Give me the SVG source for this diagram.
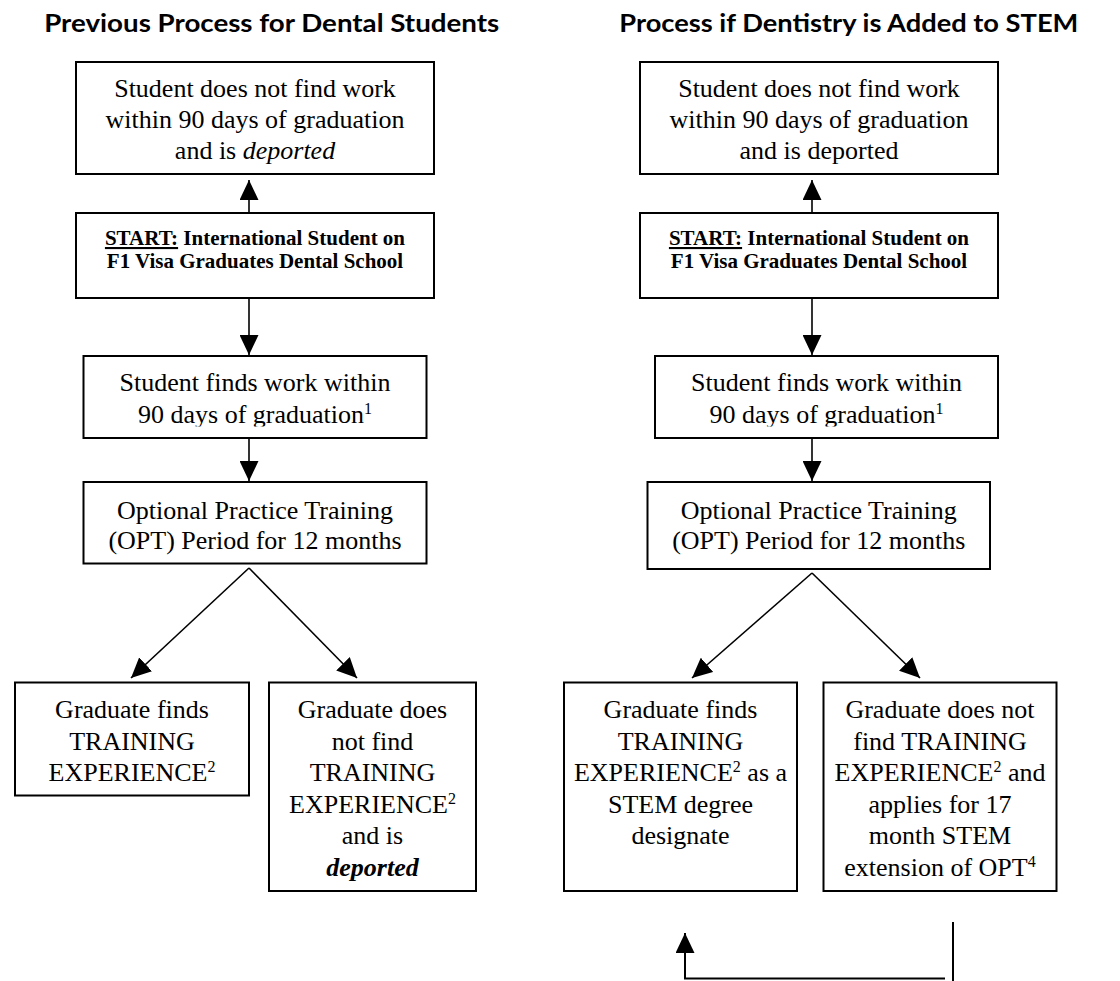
<svg xmlns="http://www.w3.org/2000/svg" width="1120" height="981" viewBox="0 0 1120 981">
<style>
.box{fill:#fff;stroke:#000;stroke-width:2}
.t{font-family:"Liberation Serif","Times New Roman",serif;font-size:26px;fill:#000;text-anchor:middle}
.b{font-family:"Liberation Serif","Times New Roman",serif;font-size:21px;font-weight:bold;fill:#000;text-anchor:middle}
.title{font-family:Lato,"Open Sans","Liberation Sans",sans-serif;font-size:25.5px;font-weight:bold;fill:#000;text-anchor:middle}
.sup{font-size:16px}
.c{fill:none;stroke:#000;stroke-width:1.6}
</style>
<defs>
<marker id="ah" markerUnits="userSpaceOnUse" markerWidth="20" markerHeight="19" viewBox="0 0 20 19" refX="20" refY="9.5" orient="auto">
<path d="M0,0 L20,9.5 L0,19 z" fill="#000"/>
</marker>
<clipPath id="clipL3"><rect x="80" y="350" width="350" height="76.5"/></clipPath>
<clipPath id="clipR3"><rect x="650" y="350" width="350" height="76.5"/></clipPath>
</defs>

<text class="title" x="271.7" y="32" textLength="455" lengthAdjust="spacingAndGlyphs">Previous Process for Dental Students</text>
<text class="title" x="848.8" y="32" textLength="459" lengthAdjust="spacingAndGlyphs">Process if Dentistry is Added to STEM</text>

<g id="connectors">
<line class="c" x1="249" y1="213" x2="249" y2="180" marker-end="url(#ah)"/>
<line class="c" x1="249" y1="298" x2="249" y2="355" marker-end="url(#ah)"/>
<line class="c" x1="249" y1="438" x2="249" y2="481" marker-end="url(#ah)"/>
<line class="c" x1="249" y1="568" x2="131" y2="678" marker-end="url(#ah)"/>
<line class="c" x1="249" y1="568" x2="357" y2="678" marker-end="url(#ah)"/>
<line class="c" x1="812" y1="213" x2="812" y2="180" marker-end="url(#ah)"/>
<line class="c" x1="812" y1="298" x2="812" y2="355" marker-end="url(#ah)"/>
<line class="c" x1="812" y1="438" x2="812" y2="481" marker-end="url(#ah)"/>
<line class="c" x1="812" y1="573" x2="692" y2="678" marker-end="url(#ah)"/>
<line class="c" x1="812" y1="573" x2="920" y2="678" marker-end="url(#ah)"/>
<polyline class="c" style="stroke-width:2" points="945,978.5 685,978.5 685,933" marker-end="url(#ah)"/>
<line class="c" style="stroke-width:2" x1="953" y1="922" x2="953" y2="981"/>
</g>

<g id="L1">
<rect class="box" x="76" y="62" width="358" height="112"/>
<text class="t" x="255" y="97">Student does not find work</text>
<text class="t" x="255" y="128">within 90 days of graduation</text>
<text class="t" x="255" y="159">and is <tspan font-style="italic">deported</tspan></text>
</g>
<g id="L2">
<rect class="box" x="76" y="213" width="358" height="85"/>
<text class="b" x="255" y="245"><tspan text-decoration="underline">START:</tspan> International Student on</text>
<text class="b" x="255" y="268">F1 Visa Graduates Dental School</text>
</g>
<g id="L3">
<rect class="box" x="83.5" y="356" width="343" height="82"/>
<text class="t" x="255" y="391">Student finds work within</text>
<text class="t" x="255" y="423" clip-path="url(#clipL3)">90 days of graduation<tspan class="sup" dy="-9">1</tspan></text>
</g>
<g id="L4">
<rect class="box" x="83.5" y="482" width="343" height="81.5"/>
<text class="t" x="255" y="518.5">Optional Practice Training</text>
<text class="t" x="255" y="548.5">(OPT) Period for 12 months</text>
</g>
<g id="L5">
<rect class="box" x="15" y="682.5" width="234" height="113"/>
<text class="t" x="132" y="718">Graduate finds</text>
<text class="t" x="132" y="749.5">TRAINING</text>
<text class="t" x="132" y="781">EXPERIENCE<tspan class="sup" dy="-9">2</tspan></text>
</g>
<g id="L6">
<rect class="box" x="269" y="682.5" width="207" height="208.5"/>
<text class="t" x="372.5" y="718">Graduate does</text>
<text class="t" x="372.5" y="749.5">not find</text>
<text class="t" x="372.5" y="781">TRAINING</text>
<text class="t" x="372.5" y="812.5">EXPERIENCE<tspan class="sup" dy="-9">2</tspan></text>
<text class="t" x="372.5" y="844">and is</text>
<text class="t" x="372.5" y="875.5" font-weight="bold" font-style="italic">deported</text>
</g>

<g id="R1">
<rect class="box" x="640" y="62" width="358" height="112"/>
<text class="t" x="819" y="97">Student does not find work</text>
<text class="t" x="819" y="128">within 90 days of graduation</text>
<text class="t" x="819" y="159">and is deported</text>
</g>
<g id="R2">
<rect class="box" x="640" y="213" width="358" height="85"/>
<text class="b" x="819" y="245"><tspan text-decoration="underline">START:</tspan> International Student on</text>
<text class="b" x="819" y="268">F1 Visa Graduates Dental School</text>
</g>
<g id="R3">
<rect class="box" x="655" y="356" width="343" height="82"/>
<text class="t" x="826.5" y="391">Student finds work within</text>
<text class="t" x="826.5" y="423" clip-path="url(#clipR3)">90 days of graduation<tspan class="sup" dy="-9">1</tspan></text>
</g>
<g id="R4">
<rect class="box" x="647.5" y="482" width="342.5" height="87"/>
<text class="t" x="818.75" y="518.5">Optional Practice Training</text>
<text class="t" x="818.75" y="548.5">(OPT) Period for 12 months</text>
</g>
<g id="R5">
<rect class="box" x="564" y="682.5" width="233" height="208.5"/>
<text class="t" x="680.5" y="718">Graduate finds</text>
<text class="t" x="680.5" y="749.5">TRAINING</text>
<text class="t" x="680.5" y="781">EXPERIENCE<tspan class="sup" dy="-9">2</tspan><tspan dy="9"> as a</tspan></text>
<text class="t" x="680.5" y="812.5">STEM degree</text>
<text class="t" x="680.5" y="844">designate</text>
</g>
<g id="R6">
<rect class="box" x="823.5" y="682.5" width="233" height="208.5"/>
<text class="t" x="940" y="718">Graduate does not</text>
<text class="t" x="940" y="749.5">find TRAINING</text>
<text class="t" x="940" y="781">EXPERIENCE<tspan class="sup" dy="-9">2</tspan><tspan dy="9"> and</tspan></text>
<text class="t" x="940" y="812.5">applies for 17</text>
<text class="t" x="940" y="844">month STEM</text>
<text class="t" x="940" y="875.5">extension of OPT<tspan class="sup" dy="-9">4</tspan></text>
</g>
</svg>
